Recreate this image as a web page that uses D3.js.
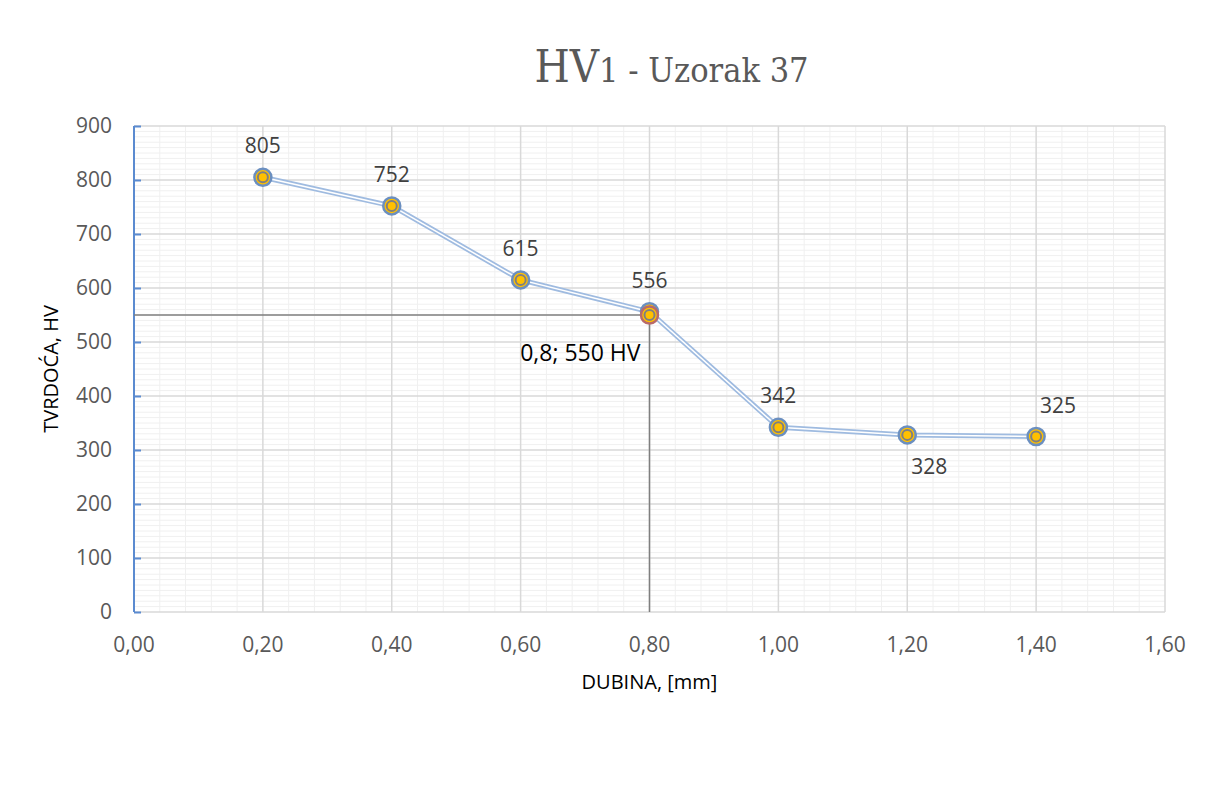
<!DOCTYPE html>
<html>
<head>
<meta charset="utf-8">
<script src="https://cdn.jsdelivr.net/npm/d3@7"></script>
<style>
  body { margin: 0; background: #fff; }
  text { font-family: "Open Sans", "Noto Sans", "Liberation Sans", sans-serif; }
</style>
</head>
<body>
<div id="chart"></div>
<script>
// data
const depths = [0.2, 0.4, 0.6, 0.8, 1.0, 1.2, 1.4];
const hardness = [805, 752, 615, 556, 342, 328, 325];
const labelPos = ["above", "above", "above", "above", "above", "below", "above"];
const refPoint = { x: 0.8, y: 550, label: "0,8; 550 HV" };
const xTicks = [0, 0.2, 0.4, 0.6, 0.8, 1.0, 1.2, 1.4, 1.6];
const yTicks = [0, 100, 200, 300, 400, 500, 600, 700, 800, 900];

const props = {
    width: 1217, height: 790,
    margin: { left: 134, right: 52, top: 126, bottom: 178 },
    grid: { major: "#d9d9d9", minor: "#f0f0f0" },
    text: "#595959",
    line: "#9fbbe0"
};

const svg = d3.select("#chart").append("svg")
    .attr("width", props.width).attr("height", props.height);

const x = d3.scaleLinear().domain([0, 1.6]).range([props.margin.left, props.width - props.margin.right]);
const y = d3.scaleLinear().domain([0, 900]).range([props.height - props.margin.bottom, props.margin.top]);

// minor grid
const grid = svg.append("g");
grid.selectAll(".minorY").data(d3.range(0, 901, 10).filter(v => v % 100 !== 0))
    .join("line")
    .attr("x1", x(0)).attr("x2", x(1.6))
    .attr("y1", d => y(d)).attr("y2", d => y(d))
    .attr("stroke", props.grid.minor).attr("stroke-width", 1);
grid.selectAll(".minorX").data(d3.range(0, 41).map(i => i * 0.04).filter(v => Math.abs(v / 0.2 - Math.round(v / 0.2)) > 1e-6))
    .join("line")
    .attr("x1", d => x(d)).attr("x2", d => x(d))
    .attr("y1", y(0)).attr("y2", y(900))
    .attr("stroke", props.grid.minor).attr("stroke-width", 1);

// major grid
grid.selectAll(".majorY").data(yTicks)
    .join("line")
    .attr("x1", x(0)).attr("x2", x(1.6))
    .attr("y1", d => y(d)).attr("y2", d => y(d))
    .attr("stroke", props.grid.major).attr("stroke-width", 1.5);
grid.selectAll(".majorX").data(xTicks)
    .join("line")
    .attr("x1", d => x(d)).attr("x2", d => x(d))
    .attr("y1", y(0)).attr("y2", y(900))
    .attr("stroke", props.grid.major).attr("stroke-width", 1.5);

// y axis (blue, inner ticks)
const yAxis = svg.append("g")
    .attr("transform", `translate(${x(0)},0)`)
    .call(d3.axisRight(y).tickValues(yTicks).tickSize(7).tickSizeOuter(0).tickFormat(""));
yAxis.selectAll("path, line").attr("stroke", "#5b8bd0").attr("stroke-width", 2);
yAxis.select(".domain").attr("d", `M0,${y(0)}V${y(900)}`);

svg.append("g").selectAll("text").data(yTicks).join("text")
    .attr("x", x(0) - 22).attr("y", d => y(d)).attr("dy", "0.35em")
    .attr("text-anchor", "end").attr("font-size", 21).attr("fill", props.text)
    .text(d => d);

// x tick labels
svg.append("g").selectAll("text").data(xTicks).join("text")
    .attr("x", d => x(d)).attr("y", y(0) + 40)
    .attr("text-anchor", "middle").attr("font-size", 21).attr("fill", props.text)
    .text(d => d3.format(".2f")(d).replace(".", ","));

// reference lines
const ref = svg.append("g");
ref.append("line")
    .attr("x1", x(0)).attr("x2", x(refPoint.x))
    .attr("y1", y(refPoint.y)).attr("y2", y(refPoint.y))
    .attr("stroke", "#7f7f7f").attr("stroke-width", 1.5);
ref.append("line")
    .attr("x1", x(refPoint.x)).attr("x2", x(refPoint.x))
    .attr("y1", y(0)).attr("y2", y(refPoint.y))
    .attr("stroke", "#7f7f7f").attr("stroke-width", 1.5);

// series line (double line)
const points = depths.map((d, i) => ({ x: d, y: hardness[i], pos: labelPos[i] }));
const lineGen = d3.line().x(d => x(d.x)).y(d => y(d.y));
svg.append("path").datum(points).attr("d", lineGen)
    .attr("fill", "none").attr("stroke", props.line).attr("stroke-width", 5);
svg.append("path").datum(points).attr("d", lineGen)
    .attr("fill", "none").attr("stroke", "#fff").attr("stroke-width", 1.5);

// markers
const drawMarker = (g, ringColor) => {
    g.append("circle").attr("r", 8.5).attr("fill", "#ffc000").attr("stroke", ringColor).attr("stroke-width", 2.5);
    g.append("circle").attr("r", 5).attr("fill", "#ffc000").attr("stroke", "#808080").attr("stroke-width", 2);
};
const markers = svg.append("g").selectAll("g").data(points).join("g")
    .attr("transform", d => `translate(${x(d.x)},${y(d.y)})`);
markers.each(function () { drawMarker(d3.select(this), "#6b8fc0"); });

const refMarker = svg.append("g").attr("transform", `translate(${x(refPoint.x)},${y(refPoint.y)})`);
drawMarker(refMarker, "#b86a6a");

// data labels
svg.append("g").selectAll("text").data(points).join("text")
    .attr("x", d => x(d.x) + (d.pos === "below" ? 22 : (d.x >= 1.4 ? 22 : 0)))
    .attr("y", d => y(d.y) + (d.pos === "below" ? 39 : -24))
    .attr("text-anchor", "middle").attr("font-size", 21).attr("fill", "#404040")
    .text(d => d.y);

svg.append("text")
    .attr("x", x(refPoint.x) - 9).attr("y", y(refPoint.y) + 46)
    .attr("text-anchor", "end").attr("font-size", 23).attr("fill", "#000")
    .text(refPoint.label);

// axis titles
svg.append("text")
    .attr("transform", `translate(58,${(y(0) + y(900)) / 2}) rotate(-90)`)
    .attr("text-anchor", "middle").attr("font-size", 20).attr("fill", "#000")
    .text("TVRDOĆA, HV");
svg.append("text")
    .attr("x", x(0.8)).attr("y", y(0) + 77)
    .attr("text-anchor", "middle").attr("font-size", 20).attr("fill", "#000")
    .text("DUBINA, [mm]");

// title
const title = svg.append("text")
    .attr("x", x(0.8) + 22).attr("y", 82)
    .attr("text-anchor", "middle").attr("fill", "#595959")
    .style("font-family", "'DejaVu Serif Condensed', 'DejaVu Serif', serif")
    .style("font-stretch", "condensed");
title.append("tspan").attr("font-size", 45).text("HV");
title.append("tspan").attr("font-size", 34).text("1 - Uzorak 37");
</script>
</body>
</html>
